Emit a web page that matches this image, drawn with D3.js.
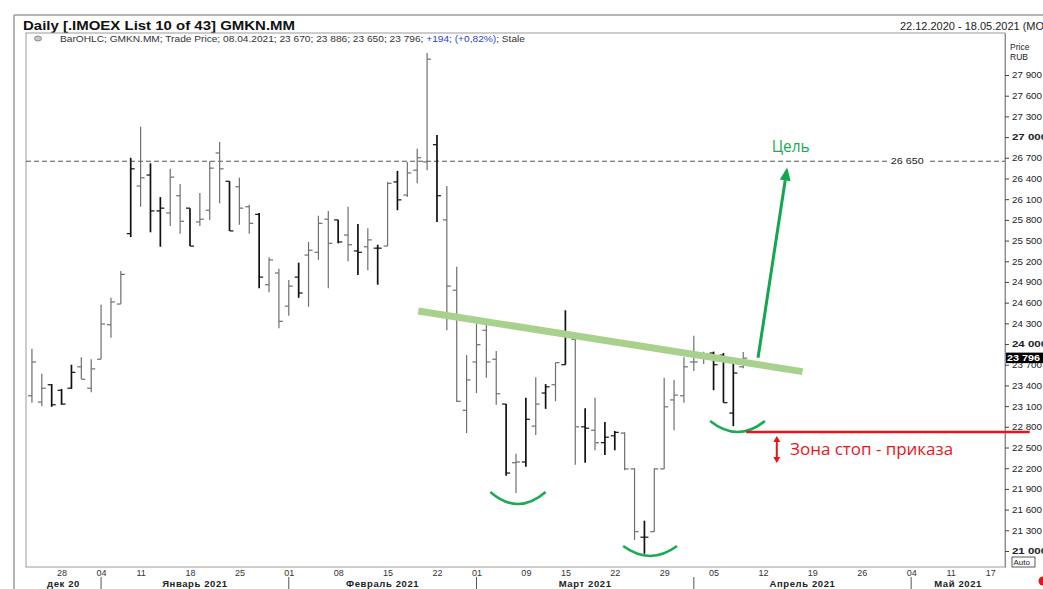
<!DOCTYPE html>
<html>
<head>
<meta charset="utf-8">
<script src="https://cdn.jsdelivr.net/npm/d3@7"></script>
<style>
  body { margin: 0; background: #fff; }
  svg { display: block; font-family: Arial, "Liberation Sans", sans-serif; }
</style>
</head>
<body>
<div id="chart"></div>
<script>
// daily OHLC bars, GMKN.MM, 22.12.2020 - 08.04.2021
const opens = [
  23250,23160,23410,23330,23360,23670,23360,23780,24280,24580,
  25600,26290,26450,25930,25900,26150,25970,25770,25940,26770,
  26360,26280,25990,25880,24860,25030,24550,24970,25290,25330,
  25810,25800,25580,25350,25410,25390,25420,26350,26160,26520,
  26640,26890,25800,24780,23040,23740,24200,23780,23130,22280,
  22290,22810,23290,23410,23700,24070,22800,22750,22570,22670,
  22710,22190,21200,21280,22190,23190,23250,23740,23840,23870,
  23840,23000,23670];
const highs = [
  23930,23570,23420,23350,23700,23810,23780,24570,24670,25060,
  26700,27150,26620,26130,26540,26320,25970,26190,26650,26930,
  26360,26410,26020,25900,25260,25090,24930,25180,25480,25860,
  25930,25800,25990,25740,25680,25440,26350,26510,26640,26830,
  28220,27030,26290,25120,23840,24380,24360,23900,23130,22410,
  23220,23520,23420,23730,24490,24090,23070,23220,22870,22740,
  22720,22200,21440,22200,23510,23480,23810,24120,23890,23890,
  23870,23800,23886];
const lows = [
  23150,23100,23090,23120,23350,23490,23300,23780,24090,24580,
  25550,25990,25620,25410,25710,25600,25420,25710,25800,26040,
  25640,25730,25600,24810,24750,24230,24410,24670,24540,25220,
  24810,25460,25200,25000,25070,24860,25420,25940,26130,26330,
  26520,25770,24200,23160,22710,23290,23510,23120,22090,21840,
  22220,22680,23060,23170,23700,22250,22280,22460,22390,22460,
  22170,21160,20960,21280,22190,22750,23150,23610,23710,23330,
  23150,22810,23650];
const closes = [
  23740,23360,23120,23130,23590,23490,23640,24290,24610,25010,
  26540,26410,25930,25970,26420,25780,25420,25810,26550,26540,
  25640,25970,25750,24970,25220,24330,24840,24740,25360,25750,
  25460,25480,25440,25330,25510,25390,26330,26090,26480,26700,
  28130,26150,24840,23170,23480,23990,23740,23280,22130,22290,
  22910,23130,23380,23730,24120,22800,22780,22570,22650,22720,
  22190,21280,21200,22190,23090,23260,23670,23740,23810,23700,
  23150,23580,23796];
// g = grey bar, k = black bar
const barShade = ("ggkkkggggg" + "kgkkggkggg" + "kggkgggkgg" + "gkgkgkgkgg" +
                  "gkggggggkg" + "kgkgkgkgkk" + "ggkggggggk" + "kkg").split("");

// x axis: bar index of each weekly label, and of each month start
const weekLabels = ["28","04","11","18","25","01","08","15","22","01","09","15","22","29","05","12","19","26","04","11","17"];
const weekIdx    = [3,7,11,16,21,26,31,36,41,45,50,54,59,64,69,74,79,84,89,93,97];
const monthNames = ["дек 20","Январь 2021","Февраль 2021","Март 2021","Апрель 2021","Май 2021"];
const monthStart = [7,26,45,67,89];

const priceTicks = d3.range(21000, 27901, 300);
const targetPrice = 26650;
const lastPrice = 23796;

const W = 1043, H = 589;
const plot = {left: 26, top: 33, right: 1005, bottom: 567};

const svg = d3.select("#chart").append("svg")
    .attr("width", W)
    .attr("height", H);

const xAt = d3.scaleLinear().domain([-0.6, 98.5]).range([plot.left, plot.right]);
const yAt = d3.scaleLinear().domain([20768, 28509]).range([plot.bottom, plot.top]);

// ---- window frame and header
svg.append("line").attr("x1", 14).attr("y1", 15).attr("x2", W).attr("y2", 15)
    .attr("stroke", "#9c9c9c").attr("stroke-width", 1.5);
svg.append("line").attr("x1", 14).attr("y1", 15).attr("x2", 14).attr("y2", H)
    .attr("stroke", "#9c9c9c").attr("stroke-width", 1.5);

svg.append("text")
    .attr("x", 23).attr("y", 30)
    .attr("font-size", 12.5).attr("font-weight", "bold").attr("fill", "#111")
    .attr("textLength", 272).attr("lengthAdjust", "spacingAndGlyphs")
    .text("Daily [.IMOEX List 10 of 43] GMKN.MM");

svg.append("text")
    .attr("x", 900).attr("y", 30)
    .attr("font-size", 10).attr("fill", "#222")
    .attr("textLength", 158).attr("lengthAdjust", "spacingAndGlyphs")
    .text("22.12.2020 - 18.05.2021 (MOW)");

svg.append("ellipse").attr("cx", 38).attr("cy", 38.5).attr("rx", 3.5).attr("ry", 2.5)
    .attr("fill", "#c8c8c8").attr("stroke", "#777").attr("stroke-width", 0.8);

let info = svg.append("text")
    .attr("x", 60).attr("y", 42)
    .attr("font-size", 8.2).attr("fill", "#333")
    .attr("textLength", 465).attr("lengthAdjust", "spacingAndGlyphs");
info.append("tspan").text("BarOHLC; GMKN.MM; Trade Price; 08.04.2021; 23 670; 23 886; 23 650; 23 796; ");
info.append("tspan").attr("fill", "#2b3fd6").text("+194; (+0,82%)");
info.append("tspan").text("; Stale");

// ---- plot frame
svg.append("rect")
    .attr("x", plot.left).attr("y", plot.top)
    .attr("width", plot.right - plot.left).attr("height", plot.bottom - plot.top)
    .attr("fill", "none").attr("stroke", "#9c9c9c").attr("stroke-width", 1);

svg.append("clipPath").attr("id", "plotClip")
    .append("rect")
    .attr("x", plot.left).attr("y", plot.top)
    .attr("width", plot.right - plot.left).attr("height", plot.bottom - plot.top);

// ---- y axis on the right
const fmtPrice = d => d3.format(",")(d).replace(/,/g, " ");
let yAxis = svg.append("g")
    .attr("transform", "translate(" + plot.right + ",0)")
    .call(d3.axisRight(yAt).tickValues(priceTicks).tickSize(4).tickSizeOuter(0).tickFormat(fmtPrice));
yAxis.select(".domain").attr("stroke", "#8a8a8a");
yAxis.selectAll(".tick line").attr("stroke", "#444");
yAxis.selectAll(".tick text")
    .attr("x", 7)
    .attr("font-family", "Arial, 'Liberation Sans', sans-serif")
    .attr("font-size", 9)
    .attr("fill", "#222")
    .attr("font-weight", d => d % 1000 == 0 ? "bold" : "normal")
    .attr("textLength", d => d % 1000 == 0 ? 35 : 30)
    .attr("lengthAdjust", "spacingAndGlyphs");

svg.append("text").attr("x", 1010).attr("y", 50).attr("font-size", 8.5).attr("fill", "#222").text("Price");
svg.append("text").attr("x", 1010).attr("y", 60).attr("font-size", 8.5).attr("fill", "#222").text("RUB");

// ---- x axis, two rows of labels
let xAxis = svg.append("g")
    .attr("transform", "translate(0," + plot.bottom + ")")
    .call(d3.axisBottom(xAt).tickValues(weekIdx).tickSize(0).tickFormat((d, i) => weekLabels[i]));
xAxis.select(".domain").remove();
xAxis.selectAll(".tick text")
    .attr("y", 3)
    .attr("font-family", "Arial, 'Liberation Sans', sans-serif")
    .attr("font-size", 9)
    .attr("fill", "#333");

let bounds = [plot.left].concat(monthStart.map(d => xAt(d))).concat([plot.right]);
svg.selectAll(".monthSep")
    .data(monthStart)
    .enter().append("line")
    .attr("class", "monthSep")
    .attr("x1", d => xAt(d)).attr("x2", d => xAt(d))
    .attr("y1", 577).attr("y2", H)
    .attr("stroke", "#555").attr("stroke-width", 1);
svg.selectAll(".monthName")
    .data(monthNames)
    .enter().append("text")
    .attr("class", "monthName")
    .attr("x", (d, i) => (bounds[i] + bounds[i + 1]) / 2)
    .attr("y", 587)
    .attr("text-anchor", "middle")
    .attr("font-size", 9.5).attr("font-weight", "bold").attr("fill", "#222")
    .attr("letter-spacing", 0.6)
    .text(d => d);

// ---- target level (dashed)
let plotG = svg.append("g").attr("clip-path", "url(#plotClip)");
plotG.append("line")
    .attr("x1", plot.left).attr("x2", plot.right)
    .attr("y1", yAt(targetPrice)).attr("y2", yAt(targetPrice))
    .attr("stroke", "#555").attr("stroke-width", 1).attr("stroke-dasharray", "5,3");
plotG.append("rect")
    .attr("x", xAt(88.6) - 20).attr("y", yAt(targetPrice) - 5)
    .attr("width", 40).attr("height", 10).attr("fill", "#fff");
plotG.append("text")
    .attr("x", xAt(88.6)).attr("y", yAt(targetPrice) + 3)
    .attr("text-anchor", "middle").attr("font-size", 8.5).attr("fill", "#222")
    .attr("textLength", 33).attr("lengthAdjust", "spacingAndGlyphs")
    .text(fmtPrice(targetPrice));

// ---- OHLC bars
let bars = plotG.selectAll(".bar")
    .data(opens.map((o, i) => ({i: i, o: o, h: highs[i], l: lows[i], c: closes[i], k: barShade[i] == "k"})))
    .enter().append("g")
    .attr("class", "bar")
    .attr("stroke", d => d.k ? "#111" : "#6f6f6f")
    .attr("stroke-width", d => d.k ? 1.7 : 1.2);
bars.append("line")
    .attr("x1", d => xAt(d.i)).attr("x2", d => xAt(d.i))
    .attr("y1", d => yAt(d.h)).attr("y2", d => yAt(d.l));
bars.append("line")
    .attr("x1", d => xAt(d.i) - 4).attr("x2", d => xAt(d.i))
    .attr("y1", d => yAt(d.o)).attr("y2", d => yAt(d.o))
    .attr("stroke-width", 1.2);
bars.append("line")
    .attr("x1", d => xAt(d.i)).attr("x2", d => xAt(d.i) + 4)
    .attr("y1", d => yAt(d.c)).attr("y2", d => yAt(d.c))
    .attr("stroke-width", 1.2);

// ---- last price box, Auto box
svg.append("rect")
    .attr("x", plot.right + 1).attr("y", yAt(lastPrice) - 5.5)
    .attr("width", 38).attr("height", 10.5).attr("fill", "#000");
svg.append("text")
    .attr("x", plot.right + 2).attr("y", yAt(lastPrice) + 3.2)
    .attr("font-size", 9).attr("font-weight", "bold").attr("fill", "#fff")
    .attr("textLength", 33).attr("lengthAdjust", "spacingAndGlyphs")
    .text(fmtPrice(lastPrice));

svg.append("rect").attr("x", 1012).attr("y", 557).attr("width", 23).attr("height", 10)
    .attr("fill", "#fff").attr("stroke", "#333").attr("stroke-width", 0.8);
svg.append("text").attr("x", 1013.5).attr("y", 565).attr("font-size", 8).attr("fill", "#222").text("Auto");
svg.append("circle").attr("cx", 1043).attr("cy", 581).attr("r", 4.5).attr("fill", "#e8141b");

// ---- drawn annotations (bar index, price)
let notes = svg.append("g");
const neckline = [[39.1, 24480], [78.0, 23600]];
notes.append("line")
    .attr("x1", xAt(neckline[0][0])).attr("y1", yAt(neckline[0][1]))
    .attr("x2", xAt(neckline[1][0])).attr("y2", yAt(neckline[1][1]))
    .attr("stroke", "#a9d18e").attr("stroke-width", 7);

const smiles = [[46.4, 52.0, 21855, 21681], [59.85, 65.3, 21072, 20928], [68.65, 74.2, 22884, 22725]];
notes.selectAll(".smile")
    .data(smiles)
    .enter().append("path")
    .attr("class", "smile")
    .attr("d", d => {
        let x1 = xAt(d[0]), x2 = xAt(d[1]), yTop = yAt(d[2]), yBot = yAt(d[3]);
        return "M" + x1 + "," + yTop + " Q" + (x1 + x2) / 2 + "," + (2 * yBot - yTop) + " " + x2 + "," + yTop;
    })
    .attr("fill", "none").attr("stroke", "#1aab55").attr("stroke-width", 2.6);

// green target arrow
const arrowFrom = [73.5, 23800], arrowTo = [76.45, 26560];
let ax1 = xAt(arrowFrom[0]), ay1 = yAt(arrowFrom[1]), ax2 = xAt(arrowTo[0]), ay2 = yAt(arrowTo[1]);
let ang = Math.atan2(ay2 - ay1, ax2 - ax1);
let headLen = 13, headW = 5.5;
let bx = ax2 - headLen * Math.cos(ang), by = ay2 - headLen * Math.sin(ang);
notes.append("line")
    .attr("x1", ax1).attr("y1", ay1).attr("x2", bx).attr("y2", by)
    .attr("stroke", "#13a64f").attr("stroke-width", 3);
notes.append("polygon")
    .attr("points", [
        [ax2, ay2],
        [bx + headW * Math.sin(ang), by - headW * Math.cos(ang)],
        [bx - headW * Math.sin(ang), by + headW * Math.cos(ang)]
    ].map(p => p.join(",")).join(" "))
    .attr("fill", "#13a64f");
notes.append("text")
    .attr("x", xAt(76.8)).attr("y", yAt(26784))
    .attr("text-anchor", "middle")
    .attr("font-family", "'Open Sans', 'Noto Sans', sans-serif")
    .attr("font-size", 16).attr("fill", "#1aab55")
    .attr("textLength", 38).attr("lengthAdjust", "spacingAndGlyphs")
    .text("Цель");

// red stop level
const stopPrice = 22725;
notes.append("line")
    .attr("x1", xAt(72.3)).attr("x2", xAt(101))
    .attr("y1", yAt(stopPrice)).attr("y2", yAt(stopPrice))
    .attr("stroke", "#e8141b").attr("stroke-width", 2.5);

let sx = xAt(75.4), sy1 = yAt(22667), sy2 = yAt(22276);
notes.append("line")
    .attr("x1", sx).attr("x2", sx).attr("y1", sy1 + 5).attr("y2", sy2 - 5)
    .attr("stroke", "#e8141b").attr("stroke-width", 2);
notes.append("polygon")
    .attr("points", [[sx, sy1], [sx - 3.5, sy1 + 6], [sx + 3.5, sy1 + 6]].map(p => p.join(",")).join(" "))
    .attr("fill", "#e8141b");
notes.append("polygon")
    .attr("points", [[sx, sy2], [sx - 3.5, sy2 - 6], [sx + 3.5, sy2 - 6]].map(p => p.join(",")).join(" "))
    .attr("fill", "#e8141b");
notes.append("text")
    .attr("x", xAt(76.75)).attr("y", yAt(22392))
    .attr("font-family", "'Open Sans', 'Noto Sans', sans-serif")
    .attr("font-size", 16).attr("fill", "#e8141b")
    .attr("textLength", 163).attr("lengthAdjust", "spacingAndGlyphs")
    .text("Зона стоп - приказа");
</script>
</body>
</html>
